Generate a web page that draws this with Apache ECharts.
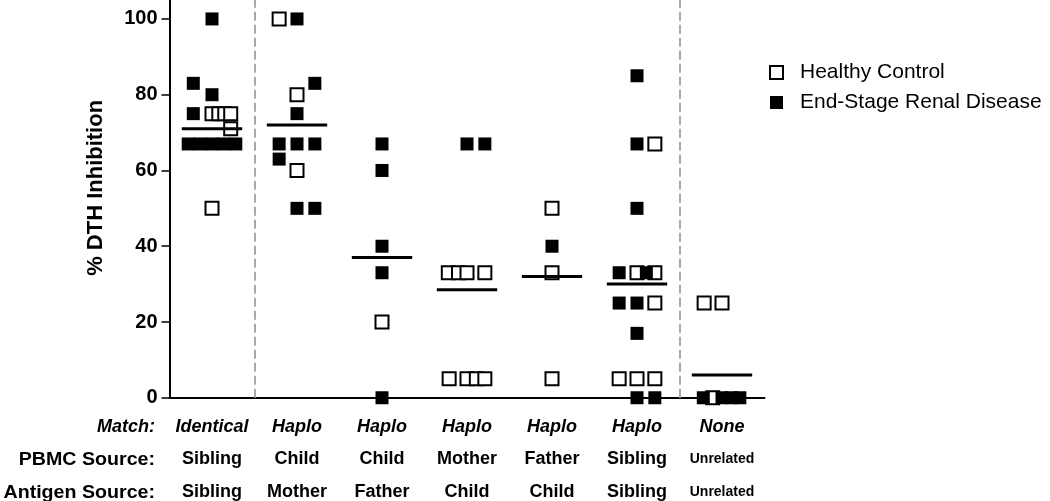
<!DOCTYPE html>
<html>
<head>
<meta charset="utf-8">
<script src="https://cdn.jsdelivr.net/npm/echarts@6/dist/echarts.min.js"></script>
<style>
  html, body { margin: 0; padding: 0; background: #fff; }
  #chart { width: 1050px; height: 501px; }
</style>
</head>
<body>
<div id="chart"></div>
<script>
  const matchType = ['Identical', 'Haplo', 'Haplo', 'Haplo', 'Haplo', 'Haplo', 'None'];
  const pbmcSource = ['Sibling', 'Child', 'Child', 'Mother', 'Father', 'Sibling', 'Unrelated'];
  const antigenSource = ['Sibling', 'Mother', 'Father', 'Child', 'Child', 'Sibling', 'Unrelated'];
  const rowTitles = ['Match:', 'PBMC Source:', 'Antigen Source:'];
  const yTicks = [0, 20, 40, 60, 80, 100];

  // [group, % inhibition, horizontal jitter within the group]
  const healthy = [
    [0, 75, 0], [0, 75, 0.08], [0, 75, 0.15], [0, 75, 0.22], [0, 71, 0.22], [0, 50, 0],
    [1, 100, -0.21], [1, 80, 0], [1, 60, 0],
    [2, 20, 0],
    [3, 33, -0.22], [3, 33, -0.1], [3, 33, 0], [3, 33, 0.21],
    [3, 5, -0.21], [3, 5, 0], [3, 5, 0.11], [3, 5, 0.21],
    [4, 50, 0], [4, 33, 0], [4, 5, 0],
    [5, 67, 0.21], [5, 33, 0], [5, 33, 0.21], [5, 25, 0.21],
    [5, 5, -0.21], [5, 5, 0], [5, 5, 0.21],
    [6, 25, -0.21], [6, 25, 0], [6, 0, -0.11],
  ];
  const esrd = [
    [0, 100, 0], [0, 83, -0.22], [0, 80, 0], [0, 75, -0.22],
    [0, 67, -0.28], [0, 67, -0.14], [0, 67, 0], [0, 67, 0.14], [0, 67, 0.28],
    [1, 100, 0], [1, 83, 0.21], [1, 75, 0], [1, 67, -0.21], [1, 67, 0], [1, 67, 0.21],
    [1, 63, -0.21], [1, 50, 0], [1, 50, 0.21],
    [2, 67, 0], [2, 60, 0], [2, 40, 0], [2, 33, 0], [2, 0, 0],
    [3, 67, 0], [3, 67, 0.21],
    [4, 40, 0],
    [5, 85, 0], [5, 67, 0], [5, 50, 0], [5, 33, -0.21], [5, 33, 0.11],
    [5, 25, -0.21], [5, 25, 0], [5, 17, 0], [5, 0, 0], [5, 0, 0.21],
    [6, 0, -0.22], [6, 0, 0], [6, 0, 0.11], [6, 0, 0.21],
  ];
  const means = [71, 72, 37, 28.5, 32, 30, 6];
  const dividers = [0.5, 5.5];

  const font = 'Liberation Sans, Arial, sans-serif';
  const chart = echarts.init(document.getElementById('chart'));

  // row titles left of the category labels, stretched a bit like the original
  const titleStyles = ['italic bold 18px ', 'bold 18px ', 'bold 18px '];
  const titles = rowTitles.map((t, i) => ({
    type: 'text',
    x: 155,
    y: 427 + i * 33,
    scaleX: i === 0 ? 1 : 1.09,
    style: { text: t, font: titleStyles[i] + font, fill: '#000', align: 'right', verticalAlign: 'middle' },
  }));

  const option = {
    animation: false,
    textStyle: { fontFamily: font, color: '#000' },
    grid: { left: 169.5, right: 285.5, top: 0, bottom: 103, containLabel: false },
    legend: {
      orient: 'vertical',
      left: 764,
      top: 57,
      itemWidth: 13,
      itemHeight: 13,
      itemGap: 9,
      selectedMode: false,
      textStyle: { fontFamily: font, fontSize: 21, lineHeight: 21, color: '#000', padding: [0, 0, 0, 12] },
      data: ['Healthy Control', 'End-Stage Renal Disease'],
    },
    xAxis: [
      {
        type: 'category',
        data: matchType,
        boundaryGap: true,
        axisLine: { lineStyle: { color: '#000', width: 2 } },
        axisTick: { alignWithLabel: true, length: 6, lineStyle: { color: '#000', width: 1.5 } },
        axisLabel: {
          interval: 0,
          margin: 13,
          formatter(value, index) {
            const s = pbmcSource[index] === 'Unrelated' ? 'u' : 's';
            return '{m|' + matchType[index] + '}\n{' + s + '|' + pbmcSource[index] + '}\n{' + s + '|' + antigenSource[index] + '}';
          },
          rich: {
            m: { fontFamily: font, fontSize: 18, fontWeight: 'bold', fontStyle: 'italic', lineHeight: 32.5, color: '#000' },
            s: { fontFamily: font, fontSize: 18, fontWeight: 'bold', lineHeight: 32.5, color: '#000' },
            u: { fontFamily: font, fontSize: 14, fontWeight: 'bold', lineHeight: 32.5, color: '#000' },
          },
        },
      },
      { type: 'value', min: -0.5, max: 6.5, show: false },
    ],
    yAxis: {
      type: 'value',
      min: 0,
      max: 105,
      name: '% DTH Inhibition',
      nameLocation: 'middle',
      nameGap: 63,
      nameTextStyle: { fontFamily: font, fontSize: 22, fontWeight: 'bold', color: '#000', padding: [0, 0, 0, 22] },
      splitLine: { show: false },
      axisLine: { show: true, onZero: false, lineStyle: { color: '#000', width: 2 } },
      axisTick: { show: true, length: 8, customValues: yTicks, lineStyle: { color: '#000', width: 1.5 } },
      axisLabel: { customValues: yTicks, margin: 12, fontSize: 20, fontWeight: 'bold', color: '#000' },
    },
    graphic: titles,
    series: [
      {
        name: 'Healthy Control',
        type: 'scatter',
        xAxisIndex: 1,
        symbol: 'rect',
        symbolSize: 13,
        clip: false,
        z: 2,
        itemStyle: { color: '#fff', borderColor: '#000', borderWidth: 2, opacity: 1 },
        data: healthy.map(([g, v, dx]) => [g + dx, v]),
        markLine: {
          silent: true,
          symbol: 'none',
          label: { show: false },
          lineStyle: { color: '#a9a9a9', type: [9, 4], width: 2 },
          data: dividers.map((x) => ({ xAxis: x })),
        },
      },
      {
        name: 'End-Stage Renal Disease',
        type: 'scatter',
        xAxisIndex: 1,
        symbol: 'rect',
        symbolSize: 13,
        clip: false,
        z: 3,
        itemStyle: { color: '#000', opacity: 1 },
        data: esrd.map(([g, v, dx]) => [g + dx, v]),
      },
      {
        name: 'Mean',
        type: 'custom',
        xAxisIndex: 1,
        z: 4,
        silent: true,
        data: means.map((m, i) => [i, m]),
        renderItem(params, api) {
          const a = api.coord([api.value(0) - 0.355, api.value(1)]);
          const b = api.coord([api.value(0) + 0.355, api.value(1)]);
          return {
            type: 'line',
            shape: { x1: a[0], y1: a[1], x2: b[0], y2: b[1] },
            style: { stroke: '#000', lineWidth: 3 },
          };
        },
      },
    ],
  };

  chart.setOption(option);
</script>
</body>
</html>
